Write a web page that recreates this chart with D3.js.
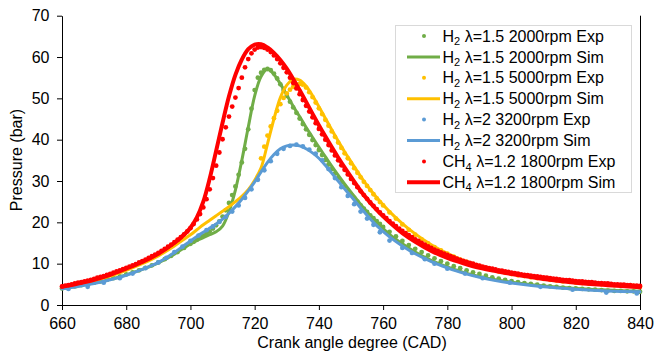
<!DOCTYPE html>
<html><head><meta charset="utf-8">
<script src="https://cdn.jsdelivr.net/npm/d3@7"></script>
<style>
body{margin:0;background:#fff;}
svg{display:block;font-family:"Liberation Sans",Arial,sans-serif;}
</style></head>
<body>
<svg id="chart" width="654" height="356"></svg>
<script>
// ---------- DATA ----------
const xTicks = [660,680,700,720,740,760,780,800,820,840];
const yTicks = [0,10,20,30,40,50,60,70];

// simulation curves share one crank-angle grid
const simCad = [660,665,670,675,680,685,690,695,698,700,702,704,706,708,710,712,714,716,718,720,722,724,726,728,730,732,734,736,738,740,742,744,746,748,750,754,758,762,766,770,775,780,785,790,795,800,810,820,830,840];
const greenSim = [4.0,4.6,5.3,6.2,7.3,8.6,10.2,12.3,13.8,14.8,15.6,16.3,17.0,17.7,19.1,22.6,27.8,35.0,43.0,50.6,55.3,57.1,55.8,53.5,50.8,48.1,45.6,43.0,40.6,38.2,35.9,33.6,31.4,29.3,27.3,23.4,20.0,17.1,14.8,12.8,10.8,9.2,7.9,6.9,6.1,5.5,4.6,4.0,3.6,3.3];
const yellowSim = [4.3,5.0,5.9,7.0,8.4,10.0,11.9,14.3,15.9,17.0,18.2,19.4,20.5,21.6,22.7,23.8,25.0,26.3,27.9,30.2,33.2,39.0,45.0,50.2,53.2,54.6,54.4,53.0,50.7,48.0,45.2,42.4,39.7,37.1,34.7,30.0,26.0,22.6,19.7,17.2,14.6,12.5,10.8,9.5,8.4,7.6,6.4,5.5,4.9,4.5];
const blueSim = [3.9,4.5,5.2,6.1,7.2,8.6,10.3,12.7,14.4,15.5,16.6,17.6,18.6,19.6,20.8,22.2,23.8,25.6,27.6,29.8,32.2,34.5,36.4,37.8,38.5,38.7,38.5,37.8,36.8,35.5,33.8,31.9,30.0,28.1,26.3,22.6,19.2,16.5,14.3,12.4,10.5,9.0,7.7,6.7,5.9,5.3,4.4,3.8,3.4,3.2];
const redSim = [4.4,5.2,6.1,7.3,8.8,10.4,12.4,15.0,17.0,18.7,21.2,25.0,30.6,37.3,44.1,50.5,55.7,59.4,61.9,63.0,63.1,62.3,61.0,59.3,57.2,54.7,52.0,49.2,46.3,43.5,40.8,38.2,35.7,33.3,31.0,26.6,23.0,20.0,17.4,15.3,13.1,11.4,10.1,9.0,8.2,7.5,6.3,5.4,4.8,4.3];

// experimental points
const redExpCad = d3.range(660, 841, 1);
const redExp = [4.5,4.7,4.8,5.0,5.2,5.4,5.5,5.7,5.9,6.1,6.3,6.6,6.8,7.0,7.3,7.5,7.8,8.1,8.4,8.7,
9.0,9.3,9.6,9.9,10.3,10.6,11.0,11.4,11.8,12.2,12.6,13.1,13.6,14.1,14.6,15.2,15.8,16.4,17.1,17.8,
18.6,19.6,20.7,22.0,23.6,25.6,28.0,30.7,33.7,36.9,40.1,43.0,45.6,48.0,50.2,52.5,55.0,57.5,59.5,60.9,
61.8,62.3,62.4,62.2,61.8,61.2,60.4,59.5,58.5,57.4,56.3,55.0,53.7,52.4,51.0,49.6,48.2,46.8,45.4,44.0,
42.6,41.3,40.0,38.7,37.4,36.2,35.0,33.8,32.7,31.6,30.5,29.5,28.5,27.5,26.6,25.7,24.8,24.0,23.2,22.4,
21.7,21.0,20.3,19.7,19.1,18.5,17.9,17.4,16.9,16.4,15.9,15.5,15.0,14.6,14.2,13.8,13.4,13.1,12.7,12.4,
12.1,11.8,11.5,11.2,10.9,10.7,10.4,10.2,10.0,9.7,9.5,9.3,9.1,8.9,8.8,8.6,8.4,8.3,8.1,8.0,
7.8,7.7,7.6,7.4,7.3,7.2,7.1,7.0,6.9,6.8,6.7,6.6,6.5,6.4,6.3,6.2,6.1,6.0,6.0,5.9,
5.8,5.7,5.7,5.6,5.5,5.5,5.4,5.3,5.3,5.2,5.2,5.1,5.0,5.0,4.9,4.9,4.8,4.8,4.7,4.7,4.6];

const greenExpCad = [660,662,664,666,668,670,672,674,676,678,680,682,684,686,688,690,692,694,696,698,
700,701,702,703,704,705,706,707,708,709,710,711,712,713,714,715,716,717,718,719,720,721,722,723,724,725,726,727,728,729,
730,731,732,733,734,735,736,737,738,739,740,741,742,743,744,745,746,747,748,749,750,751,752,753,754,755,756,757,758,759,760,
762,764,766,768,770,772,774,776,778,780,782,784,786,788,790,792,794,796,798,800,802,804,806,808,810,812,814,816,818,820,822,824,826,828,830,832,834,836,838,840];
const greenExp = [4.0,4.2,4.5,4.8,5.1,5.4,5.7,6.1,6.5,6.9,7.4,7.9,8.4,9.0,9.6,10.3,11.1,11.9,12.8,13.8,
14.8,15.3,15.8,16.3,16.8,17.3,17.8,18.5,19.3,20.2,21.4,22.9,24.7,26.6,28.7,31.5,34.5,37.8,42.5,47.5,52.0,55.0,56.2,56.9,57.1,56.8,56.0,54.8,53.4,52.0,
50.6,49.2,47.8,46.5,45.1,43.8,42.5,41.2,39.9,38.7,37.5,36.3,35.1,34.0,32.9,31.8,30.7,29.7,28.7,27.7,26.8,25.9,25.0,24.1,23.3,22.5,21.7,21.0,20.3,19.6,18.9,
17.7,16.6,15.5,14.5,13.6,12.8,12.0,11.3,10.6,10.0,9.4,8.9,8.4,7.9,7.5,7.1,6.7,6.4,6.1,5.8,5.5,5.3,5.1,4.9,4.7,4.5,4.4,4.2,4.1,4.0,3.9,3.8,3.7,3.6,3.5,3.4,3.4,3.3,3.3,3.2];

const yellowExpCad = [722,723,724,725,726,727,728,729,730,731,732,733,734,735,736,737,738,739,740,741,742,743,744,745,746,747,748,749,750,751,752,753,754,755,756,757,758,759,760,
762,764,766,768,770,772,774,776,778,780,782,784,786,788,790,792,794,796,798,800,802,804,806,808,810,812,814,816,818,820,822,824,826,828,830,832,834,836,838,840];
const yellowExp = [35.5,38.3,41.0,43.2,45.2,47.0,48.6,50.1,51.2,52.1,52.8,53.3,53.5,53.3,52.6,51.5,50.3,49.0,47.6,46.2,44.8,43.4,42.0,40.7,39.3,38.0,36.7,35.5,34.3,33.1,32.0,30.9,29.8,28.8,27.8,26.8,25.8,24.9,24.1,
22.4,20.9,19.5,18.2,17.0,15.9,14.9,14.0,13.2,12.4,11.7,11.0,10.4,9.9,9.4,8.9,8.5,8.1,7.8,7.5,7.2,7.0,6.7,6.5,6.3,6.1,5.9,5.7,5.6,5.4,5.3,5.2,5.1,5.0,4.9,4.8,4.7,4.7,4.6,4.4];

const blueExpCad = [662,668,673,678,682,686,690,692.5,695,697.5,700,702.5,705,707,709,711,713,715,717,719,721,723,725,727,729,731,733,735,737,739,741,743,745,747,749,751,753,755,757,759,762,766,769,773,776,780,785.5,791,799.5,809,819,829.5,839];
const blueExp = [3.9,4.4,5.4,6.5,7.6,8.9,10.3,11.4,12.8,14.1,15.5,16.8,18.1,19.0,20.1,21.3,22.6,24.1,25.9,28.0,30.3,32.6,34.8,36.6,37.8,38.5,38.8,38.4,37.6,36.6,35.0,32.9,30.7,28.5,26.4,24.4,22.6,20.9,19.4,17.6,15.6,13.8,12.6,11.1,10.0,8.8,7.6,6.5,5.4,4.4,3.7,3.0,2.8];

// series (Excel order)
const seriesNames = ["λ=1.5 2000rpm", "λ=1.5 5000rpm", "λ=2 3200rpm", "λ=1.2 1800rpm"];
const fuels = ["H","H","H","CH"];
const fuelSub = ["2","2","2","4"];
const colors = ["#70AD47","#FFC000","#5B9BD5","#FF0000"];

// ---------- CHART ----------
const svg = d3.select("#chart");
const x = d3.scaleLinear().domain([660,840]).range([62,640]);
const y = d3.scaleLinear().domain([0,70]).range([305,15.7]);

const expSets = [
  {cad: greenExpCad, v: greenExp},
  {cad: yellowExpCad, v: yellowExp},
  {cad: blueExpCad, v: blueExp},
  {cad: redExpCad, v: redExp}
];
const simSets = [greenSim, yellowSim, blueSim, redSim];
const lineW = [3,3,3,4];

// axes
const xAxis = d3.axisBottom(x).tickValues(xTicks).tickSize(5).tickSizeOuter(0).tickPadding(8);
const yAxis = d3.axisLeft(y).tickValues(yTicks).tickSize(5).tickSizeOuter(0).tickPadding(7.5);
const gx = svg.append("g").attr("transform","translate(0,305)").call(xAxis);
const gy = svg.append("g").attr("transform","translate(62,0)").call(yAxis);
[gx,gy].forEach(g=>{
  g.selectAll("path,line").attr("stroke","#000").attr("stroke-width",1);
  g.selectAll("text").attr("font-size",16).attr("fill","#000").attr("font-family","Liberation Sans, Arial, sans-serif");
});
// right frame line
svg.append("line").attr("x1",x(840)+0.5).attr("x2",x(840)+0.5).attr("y1",y(70)).attr("y2",y(0))
  .attr("stroke","#000").attr("stroke-width",1);

// series
const line = d3.line().curve(d3.curveCatmullRom.alpha(0.5));
for (let i=0;i<4;i++){
  const e = expSets[i];
  svg.append("g").selectAll("circle").data(e.cad.map((c,j)=>[c,e.v[j]])).join("circle")
    .attr("cx",d=>x(d[0])).attr("cy",d=>y(d[1])).attr("r",2.4).attr("fill",colors[i]);
  svg.append("path").attr("d", line(simCad.map((c,j)=>[x(c), y(simSets[i][j])])))
    .attr("fill","none").attr("stroke",colors[i]).attr("stroke-width",lineW[i])
    .attr("stroke-linejoin","round").attr("stroke-linecap","round");
}

// axis titles
svg.append("text").attr("x",352).attr("y",348).attr("text-anchor","middle")
  .attr("font-size",16).attr("fill","#000").text("Crank angle degree (CAD)");
svg.append("text").attr("transform","translate(22,160) rotate(-90)").attr("text-anchor","middle")
  .attr("font-size",16).attr("fill","#000").text("Pressure (bar)");

// legend
const lg = svg.append("g");
lg.append("rect").attr("x",395.5).attr("y",25.5).attr("width",236).attr("height",167)
  .attr("fill","#fff").attr("stroke","#d9d9d9").attr("stroke-width",1);
const rowY0 = 36, rowDy = 20.9;
let row = 0;
for (let i=0;i<4;i++){
  for (const kind of ["Exp","Sim"]){
    const cy = rowY0 + row*rowDy;
    if (kind==="Exp"){
      lg.append("circle").attr("cx",424).attr("cy",cy).attr("r",2).attr("fill",colors[i]);
    } else {
      lg.append("line").attr("x1",407).attr("x2",440).attr("y1",cy).attr("y2",cy)
        .attr("stroke",colors[i]).attr("stroke-width",lineW[i]);
    }
    const t = lg.append("text").attr("x",442.5).attr("y",cy+5.6).attr("font-size",16).attr("fill","#000");
    t.append("tspan").text(fuels[i]);
    t.append("tspan").attr("font-size",11).attr("dy",3.5).text(fuelSub[i]);
    t.append("tspan").attr("dy",-3.5).text(" " + seriesNames[i] + " " + kind);
    row++;
  }
}
</script>
</body></html>
